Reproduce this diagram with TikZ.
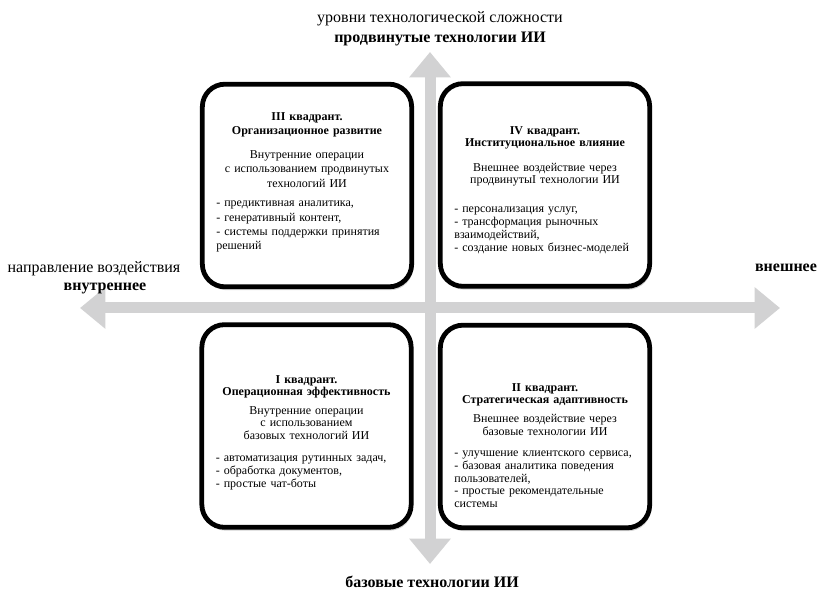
\documentclass[tikz,border=0pt]{standalone}
\usepackage{fontspec}
\setmainfont{Liberation Serif}
\usetikzlibrary{arrows.meta,positioning,shadows}
\definecolor{axisgrey}{RGB}{210,210,211}

\begin{document}
\begin{tikzpicture}[
    x=0.75pt, y=-0.75pt,
    node distance=6pt,
    axis/.style={draw=axisgrey, line width=8.25pt, >={Triangle[length=19pt,width=30pt]}, <->},
    quadbox/.style={rectangle, draw, line width=3.6pt, rounded corners=17pt, fill=white, minimum width=157pt, minimum height=152pt, drop shadow={shadow xshift=1pt, shadow yshift=-2.5pt, opacity=0.35}},
    quadhead/.style={anchor=north, text width=150pt, align=center, inner sep=0pt, font=\fontsize{9}{9.6}\selectfont},
    quadlist/.style={text width=136pt, align=left, inner sep=0pt, font=\fontsize{9}{9.6}\selectfont},
    axlabel/.style={align=center, inner sep=0pt, font=\fontsize{12}{15}\selectfont}
]
    \useasboundingbox (0,0) rectangle (818,595);

    % axes
    \coordinate (west) at (80,308);
    \coordinate (east) at (780,308);
    \coordinate (north) at (430,52);
    \coordinate (south) at (430,564);
    \draw[axis] (west) -- (east);
    \draw[axis] (south) -- (north);

    % quadrants
    \node[quadbox] (q3) at (307,185.5) {};
    \node[quadbox] (q4) at (545,185) {};
    \node[quadbox] (q1) at (306.5,426) {};
    \node[quadbox] (q2) at (545,426.5) {};

    % III
    \node[quadhead, font=\fontsize{9}{10.8}\selectfont] (h3) at (307,112) {\textbf{III квадрант.\\Организационное развитие}\\[7pt]
        Внутренние операции\\с использованием продвинутых\\технологий ИИ};
    \node[quadlist, font=\fontsize{9}{10.8}\selectfont, below=10pt of h3] (l3) {- предиктивная аналитика,\\- генеративный контент,\\- системы поддержки принятия\\решений};

    % IV
    \node[quadhead] (h4) at (545,126) {\textbf{IV квадрант.\\Институциональное влияние}\\[8.5pt]
        Внешнее воздействие через\\продвинутыI технологии ИИ};
    \node[quadlist, below=15pt of h4] (l4) {- персонализация услуг,\\- трансформация рыночных\\взаимодействий,\\- создание новых бизнес-моделей};

    % I
    \node[quadhead] (h1) at (306.5,375) {\textbf{I квадрант.\\Операционная эффективность}\\[4pt]
        Внутренние операции\\с использованием\\базовых технологий ИИ};
    \node[quadlist, below=12pt of h1] (l1) {- автоматизация рутинных задач,\\- обработка документов,\\- простые чат-боты};

    % II
    \node[quadhead] (h2) at (545,383) {\textbf{II квадрант.\\Стратегическая адаптивность}\\[4.5pt]
        Внешнее воздействие через\\базовые технологии ИИ};
    \node[quadlist, below=11pt of h2] (l2) {- улучшение клиентского сервиса,\\- базовая аналитика поведения\\пользователей,\\- простые рекомендательные\\системы};

    % axis labels
    \node[axlabel, above=4pt of north, xshift=7.5pt] (toplabel) {уровни технологической сложности\\\textbf{продвинутые технологии ИИ}};
    \node[axlabel, below=9pt of south, xshift=1.5pt] (bottomlabel) {\textbf{базовые технологии ИИ}};
    \node[axlabel] (dirlabel) at (94,269) {направление воздействия};
    \node[axlabel] (inlabel) at (105,288) {\textbf{внутреннее}};
    \node[axlabel] (outlabel) at (786,268) {\textbf{внешнее}};
\end{tikzpicture}
\end{document}
